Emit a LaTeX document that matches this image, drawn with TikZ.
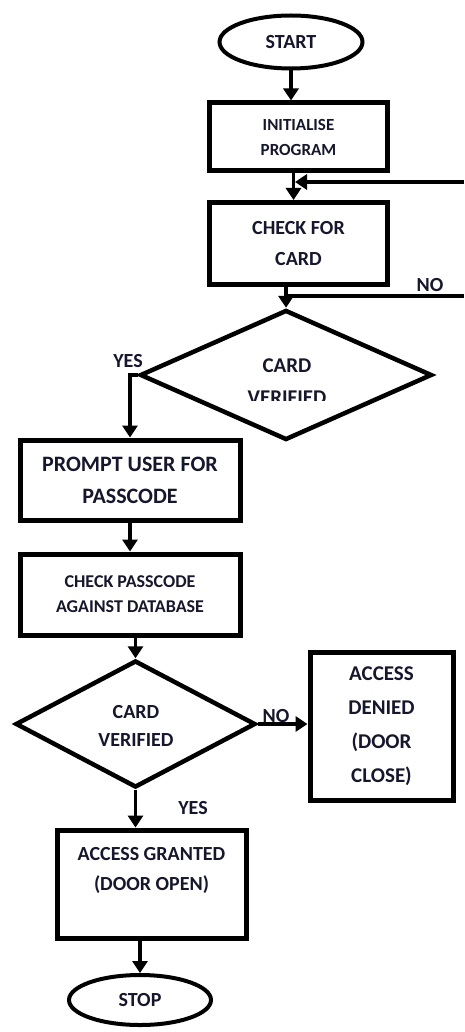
\documentclass[tikz,border=0pt]{standalone}
\usepackage{fontspec}
\setmainfont{Carlito}
\usetikzlibrary{shapes.geometric,arrows.meta,calc}
\definecolor{ink}{RGB}{22,22,44}
\newcommand{\fs}[2]{\bfseries\fontsize{#1}{#2}\selectfont}
\tikzset{
  box/.style={draw=black, line width=5pt, rectangle, inner sep=0pt, align=center, text=ink},
  term/.style={draw=black, line width=4pt, ellipse, inner sep=0pt, align=center, text=ink},
  dia/.style={draw=black, line width=4.5pt, diamond, inner sep=0pt},
  txt/.style={inner sep=0pt, align=center, text=ink},
  lbl/.style={inner sep=0pt, text=ink, font=\fs{20}{24}},
  arr/.style={draw=black, line width=3.5pt, -{Triangle[length=12pt,width=15pt]}},
  ln/.style={draw=black, line width=3.5pt},
}
\begin{document}
\begin{tikzpicture}[x=1pt,y=-1pt]
\useasboundingbox (0,0) rectangle (464,1032);

% terminals and process boxes
\node[term, minimum width=143pt, minimum height=53pt, font=\fs{20}{24}] (start) at (291,42) {START};
\node[box, minimum width=178pt, minimum height=68pt, font=\fs{17}{25}] (init) at (298.5,137)
  {INITIALISE\\PROGRAM};
\node[box, minimum width=178pt, minimum height=82pt, font=\fs{20}{31}] (check) at (298.5,243.5)
  {CHECK FOR\\CARD};

% first decision, its lower line of text cut by the frame
\node[dia, minimum width=292pt, minimum height=130pt] (d1) at (286,375) {};
\begin{scope}
  \clip (140,300) rectangle (440,400);
  \node[txt, font=\fs{21}{32}] (d1t) at (287,382) {CARD\\VERIFIED};
\end{scope}

\node[box, minimum width=220pt, minimum height=80pt, font=\fs{22}{32}] (prompt) at (130,480)
  {PROMPT USER FOR\\PASSCODE};
\node[box, minimum width=220pt, minimum height=81pt, font=\fs{18}{25}] (checkpass) at (130,594.5)
  {CHECK PASSCODE\\AGAINST DATABASE};

\node[dia, minimum width=240pt, minimum height=127pt] (d2) at (135.5,724) {};
\node[txt, font=\fs{20}{28}] (d2t) at (136,726) {CARD\\VERIFIED};

\node[box, minimum width=143pt, minimum height=148pt, font=\fs{21}{34}] (denied) at (381.5,726)
  {ACCESS\\DENIED\\(DOOR\\CLOSE)};
\node[box, minimum width=189pt, minimum height=108pt, font=\fs{20}{30}] (granted) at (151.5,884)
  {ACCESS GRANTED\\(DOOR OPEN)\\\mbox{}};
\node[term, minimum width=142pt, minimum height=50pt, font=\fs{20}{24}] (stop) at (140,1000) {STOP};

% branch labels
\node[lbl] (yes1) at (128,361) {YES};
\node[lbl] (no1) at (430,285) {NO};
\node[lbl] (no2) at (276,716) {NO};
\node[lbl] (yes2) at (193,808) {YES};

% loop ends running off the right edge
\coordinate (loopIn) at (464,182);
\coordinate (j1) at (295,182);
\coordinate (j2) at (286,296);
\coordinate (loopOut) at (464,296);

% connectors
\draw[arr] (start.south) -- (start.south |- init.north);
\draw[arr] ([xshift=-5pt]init.south) -- ([xshift=-5pt]check.north);
\draw[arr] (loopIn) -- (j1);
\draw[arr] (d1.north |- check.south) -- (d1.north);
\draw[ln] (j2) -- (loopOut);
\draw[arr] (d1.west) -| (prompt.north);
\draw[arr] (prompt) -- (checkpass);
\draw[arr] (d2.north |- checkpass.south) -- (d2.north);
\draw[arr] (d2.east) -- (d2.east -| denied.west);
\draw[arr] (d2.south) -- (d2.south |- granted.north);
\draw[arr] (stop.north |- granted.south) -- (stop.north);
\end{tikzpicture}
\end{document}
